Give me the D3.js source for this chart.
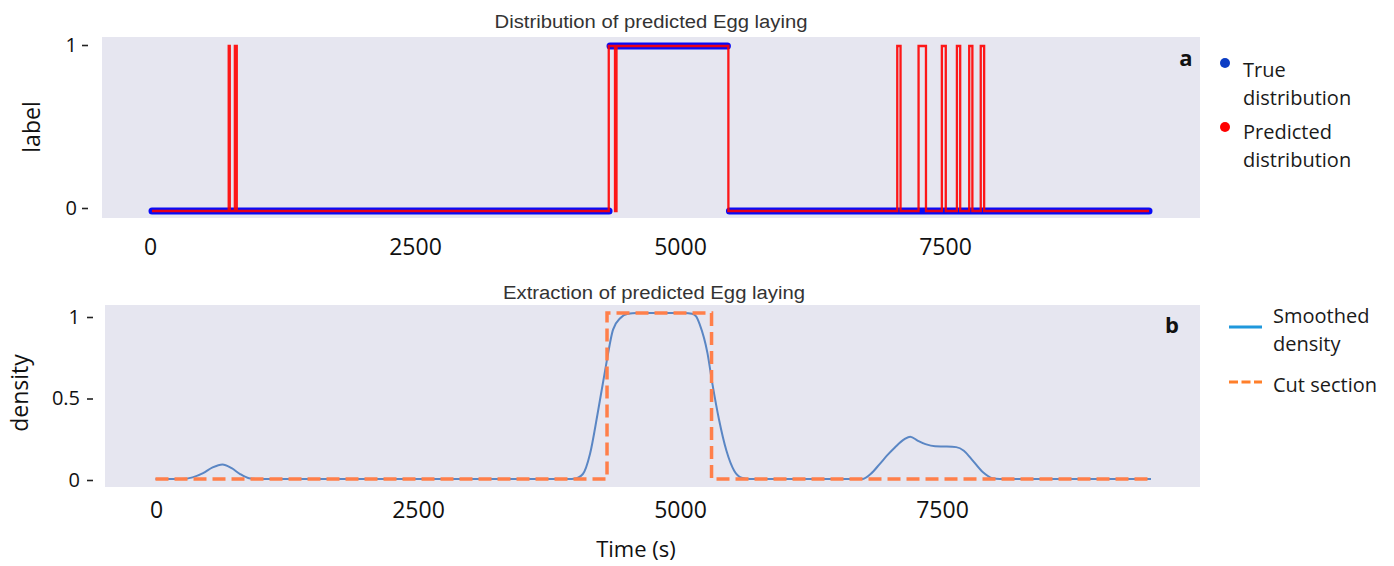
<!DOCTYPE html>
<html><head><meta charset="utf-8">
<script src="https://cdn.jsdelivr.net/npm/d3@7"></script>
<style>
body{margin:0;background:#fff}
svg text{font-family:"Open Sans",sans-serif;fill:#111}
</style>
</head><body><svg id="c" width="1394" height="566"></svg>
<script>
// ---------- data ----------
const xTicks = [0, 2500, 5000, 7500];
const labelTicks = [0, 1];
const densityTicks = [0, 0.5, 1];

// True distribution (scatter, drawn as runs of constant label)
const trueStart = [0, 4323, 5450];
const trueEnd   = [4314, 5431, 9410];
const trueValue = [0, 1, 0];

// Predicted distribution (value holds from each time until the next)
const predTime  = [0, 724, 734, 782, 800, 4311, 4370, 4384, 5440, 7034, 7065, 7235, 7305, 7455, 7492, 7597, 7628, 7713, 7743, 7822, 7854, 9410];
const predValue = [0, 1,   0,   1,   0,   1,    0,    1,    0,    1,    0,    1,    0,    1,    0,    1,    0,    1,    0,    1,    0,    0];

// Smoothed density
const densTime  = [0, 250, 350, 450, 540, 633, 720, 800, 884, 960, 3900, 3961, 4040, 4107, 4178, 4249, 4325, 4395, 4466, 4550, 5000, 5071, 5110, 5145, 5217, 5265, 5326, 5397, 5470, 5540, 5620, 6682, 6760, 6845, 6920, 6989, 7080, 7134, 7207, 7278, 7369, 7480, 7569, 7641, 7713, 7822, 7912, 7980, 9410];
const densValue = [0, 0, 0.01, 0.035, 0.07, 0.088, 0.065, 0.03, 0.005, 0, 0, 0.002, 0.03, 0.15, 0.39, 0.65, 0.9, 0.97, 0.995, 1, 1, 0.995, 0.98, 0.93, 0.76, 0.57, 0.36, 0.17, 0.05, 0.008, 0, 0, 0.03, 0.09, 0.145, 0.19, 0.24, 0.255, 0.23, 0.21, 0.197, 0.196, 0.192, 0.17, 0.12, 0.04, 0.004, 0, 0];

// Cut section
const cutTime  = [0, 4268, 5256, 9410];
const cutValue = [0, 1, 0, 0];

// ---------- chart ----------
const svg = d3.select("#c");
const BG = "#e6e6f0";

// panel a scales
const xA = d3.scaleLinear().domain([0, 9410]).range([152, 1149]);
const yA = d3.scaleLinear().domain([0, 1]).range([211, 46]);
const xAxA = d3.scaleLinear().domain([0, 7500]).range([150, 945]);
const yAxA = d3.scaleLinear().domain([0, 1]).range([208, 45]);
// panel b scales
const xB = d3.scaleLinear().domain([0, 9410]).range([155.5, 1151]);
const yB = d3.scaleLinear().domain([0, 1]).range([479, 313]);
const xAxB = d3.scaleLinear().domain([0, 7500]).range([156, 942]);
const yAxB = d3.scaleLinear().domain([0, 1]).range([480, 317]);

// backgrounds
svg.append("rect").attr("x", 102).attr("y", 37).attr("width", 1098).attr("height", 181).attr("fill", BG);
svg.append("rect").attr("x", 105).attr("y", 305).attr("width", 1095).attr("height", 182).attr("fill", BG);

// titles
svg.append("text").attr("x", 651).attr("y", 28).attr("text-anchor", "middle")
  .style("font-family", "'Liberation Sans',Arial,sans-serif").style("font-size", "18px").style("fill", "#333")
  .attr("textLength", 313).attr("lengthAdjust", "spacingAndGlyphs")
  .text("Distribution of predicted Egg laying");
svg.append("text").attr("x", 654).attr("y", 299).attr("text-anchor", "middle")
  .style("font-family", "'Liberation Sans',Arial,sans-serif").style("font-size", "18px").style("fill", "#333")
  .attr("textLength", 302).attr("lengthAdjust", "spacingAndGlyphs")
  .text("Extraction of predicted Egg laying");

// panel a marks
const trueRuns = trueStart.map((s, i) => ({s, e: trueEnd[i], v: trueValue[i]}));
svg.append("g").selectAll("line").data(trueRuns).join("line")
  .attr("x1", d => xA(d.s)).attr("x2", d => xA(d.e))
  .attr("y1", d => yA(d.v)).attr("y2", d => yA(d.v))
  .attr("stroke", "#0a0af5").attr("stroke-width", 7).attr("stroke-linecap", "round");

const predPts = predTime.map((t, i) => [t, predValue[i]]);
svg.append("path").datum(predPts)
  .attr("d", d3.line().x(d => xA(d[0])).y(d => yA(d[1])).curve(d3.curveStepAfter))
  .attr("fill", "none").attr("stroke", "#ff0000").attr("stroke-width", 2.3).attr("stroke-opacity", 0.9);

// panel b marks
const densPts = densTime.map((t, i) => [t, densValue[i]]);
svg.append("path").datum(densPts)
  .attr("d", d3.line().x(d => xB(d[0])).y(d => yB(d[1])).curve(d3.curveMonotoneX))
  .attr("fill", "none").attr("stroke", "#5a86c4").attr("stroke-width", 2);

const cutPts = cutTime.map((t, i) => [t, cutValue[i]]);
svg.append("path").datum(cutPts)
  .attr("d", d3.line().x(d => xB(d[0])).y(d => yB(d[1])).curve(d3.curveStepAfter))
  .attr("fill", "none").attr("stroke", "#ff7f4a").attr("stroke-width", 3.5)
  .attr("stroke-dasharray", "13,6");

// axes
function styleX(g, baseline, axisY) {
  g.select(".domain").remove();
  g.selectAll(".tick line").remove();
  g.selectAll(".tick text").attr("dy", null).attr("y", baseline - axisY)
    .style("font-size", "23px").style("fill", "#111");
}
function styleY(g) {
  g.select(".domain").remove();
  g.selectAll(".tick line").attr("stroke", "#222").attr("stroke-width", 1.6);
  g.selectAll(".tick text").style("font-size", "20px").style("fill", "#111");
}
const gxA = svg.append("g").attr("transform", "translate(0,218)")
  .call(d3.axisBottom(xAxA).tickValues(xTicks).tickSize(0).tickFormat(d3.format("d")));
styleX(gxA, 255, 218);
const gxB = svg.append("g").attr("transform", "translate(0,487)")
  .call(d3.axisBottom(xAxB).tickValues(xTicks).tickSize(0).tickFormat(d3.format("d")));
styleX(gxB, 518, 487);

const gyA = svg.append("g").attr("transform", "translate(88,0)")
  .call(d3.axisLeft(yAxA).tickValues(labelTicks).tickSize(6).tickPadding(5).tickFormat(d3.format("~g")));
styleY(gyA);
const gyB = svg.append("g").attr("transform", "translate(93,0)")
  .call(d3.axisLeft(yAxB).tickValues(densityTicks).tickSize(6).tickPadding(7).tickFormat(d3.format("~g")));
styleY(gyB);

// axis titles
svg.append("text").attr("transform", "translate(40,127) rotate(-90)").attr("text-anchor", "middle")
  .style("font-size", "23px").text("label");
svg.append("text").attr("transform", "translate(28,393) rotate(-90)").attr("text-anchor", "middle")
  .style("font-size", "23px").text("density");
svg.append("text").attr("x", 636).attr("y", 557).attr("text-anchor", "middle")
  .style("font-size", "22px").text("Time (s)");

// panel letters
svg.append("text").attr("x", 1186).attr("y", 66).attr("text-anchor", "middle")
  .style("font-size", "22px").style("font-weight", "bold").text("a");
svg.append("text").attr("x", 1172).attr("y", 333).attr("text-anchor", "middle")
  .style("font-size", "22px").style("font-weight", "bold").text("b");

// legend a
const legA = svg.append("g");
legA.append("circle").attr("cx", 1225).attr("cy", 63).attr("r", 5).attr("fill", "#0b3cc4");
legA.append("circle").attr("cx", 1225).attr("cy", 127).attr("r", 5).attr("fill", "#ff0000");
[["True", 77], ["distribution", 105], ["Predicted", 139], ["distribution", 167]].forEach(([t, y]) =>
  legA.append("text").attr("x", 1243).attr("y", y).style("font-size", "20px").style("fill", "#1a1a1a").text(t));

// legend b
const legB = svg.append("g");
legB.append("line").attr("x1", 1229).attr("x2", 1262).attr("y1", 327).attr("y2", 327)
  .attr("stroke", "#1f98dc").attr("stroke-width", 3);
legB.append("line").attr("x1", 1229).attr("x2", 1262).attr("y1", 382).attr("y2", 382)
  .attr("stroke", "#ff7f2a").attr("stroke-width", 3).attr("stroke-dasharray", "9,3.5");
[["Smoothed", 323], ["density", 351], ["Cut section", 392]].forEach(([t, y]) =>
  legB.append("text").attr("x", 1273).attr("y", y).style("font-size", "20px").style("fill", "#1a1a1a").text(t));
</script></body></html>
